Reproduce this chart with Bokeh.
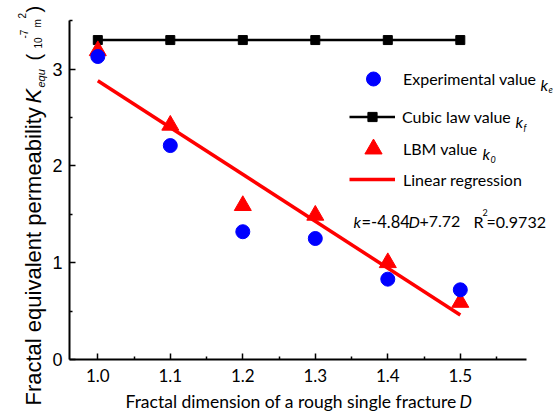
import math
from bokeh.plotting import figure
from bokeh.models import (Range1d, Label, Legend, LegendItem, FixedTicker)
from bokeh.embed import file_html
from bokeh.resources import INLINE

# ---- data ----
D = [1.0, 1.1, 1.2, 1.3, 1.4, 1.5]
k_exp = [3.13, 2.21, 1.32, 1.25, 0.83, 0.72]
k_cubic = [3.30, 3.30, 3.30, 3.30, 3.30, 3.30]
k_lbm = [3.19, 2.42, 1.59, 1.49, 1.00, 0.59]
reg_D = [1.0, 1.5]
reg_k = [2.88, 0.46]
x_ticks = [1.0, 1.1, 1.2, 1.3, 1.4, 1.5]
x_minor = [1.05, 1.15, 1.25, 1.35, 1.45, 1.55]
y_ticks = [0, 1, 2, 3]
y_minor = [0.5, 1.5, 2.5, 3.5]
x_axis_span = (0.961, 1.591)
y_axis_span = (0.0, 3.5)

W, H = 553, 414
# canvas-wide frame; axes are fixed inside it
XPX = 725.0   # px per unit D
YPX = 96.8    # px per unit k
X0PX, Y0PX = 97.3, 359.0   # canvas position of D=1.0 and k=0
x_range = Range1d(1.0 - X0PX / XPX, 1.0 + (W - X0PX) / XPX)
y_range = Range1d(-(H - Y0PX) / YPX, Y0PX / YPX)

p = figure(width=W, height=H, output_backend="svg", toolbar_location=None,
           x_range=x_range, y_range=y_range,
           min_border_left=0, min_border_right=0,
           min_border_top=0, min_border_bottom=0)
p.background_fill_color = "white"
p.border_fill_color = "white"
p.outline_line_color = None
p.grid.visible = False

p.xaxis.fixed_location = y_axis_span[0]
p.yaxis.fixed_location = x_axis_span[0]
p.xaxis.bounds = x_axis_span
p.yaxis.bounds = y_axis_span

for ax in (p.xaxis, p.yaxis):
    ax.axis_line_width = 2
    ax.axis_line_color = "black"
    ax.major_tick_in = 6
    ax.major_tick_out = 0
    ax.minor_tick_in = 3
    ax.minor_tick_out = 0
    ax.major_tick_line_width = 1.5
    ax.minor_tick_line_width = 1.5
    ax.major_label_text_color = "black"

p.xaxis.ticker = FixedTicker(ticks=x_ticks, minor_ticks=x_minor)
p.yaxis.ticker = FixedTicker(ticks=y_ticks, minor_ticks=y_minor)
p.xaxis.major_label_overrides = {t: f"{t:.1f}" for t in x_ticks}
p.xaxis.major_label_text_font = "Lato"
p.xaxis.major_label_text_font_size = "17px"
p.xaxis.major_label_standoff = 9
p.yaxis.major_label_text_font = "Liberation Sans"
p.yaxis.major_label_text_font_size = "18px"
p.yaxis.major_label_standoff = 7

# ---- glyphs ----
r_reg = p.line(reg_D, reg_k, line_color="#ff0000", line_width=3.5)
r_cub_l = p.line(D, k_cubic, line_color="black", line_width=2.5)
r_cub_s = p.scatter(D, k_cubic, marker="square", size=9, color="black")
r_lbm = p.scatter(D, k_lbm, marker="triangle", size=17, color="#ff0000")
r_exp = p.scatter(D, k_exp, marker="circle", size=14, color="#0000ff")

# ---- legends (one per item to control placement) ----
def add_legend(label, renderers, left, cy, gw, gh, standoff):
    lg = Legend(items=[LegendItem(label=label, renderers=renderers)],
                location=(left, int(round(H - (cy + gh / 2)))),
                glyph_width=gw, glyph_height=gh, label_standoff=standoff,
                padding=0, margin=0, spacing=0,
                border_line_color=None, background_fill_alpha=0,
                label_text_font="Lato", label_text_font_size="16px",
                label_text_color="black")
    p.add_layout(lg)

add_legend("Experimental value", [r_exp], 350, 78, 46, 35, 7)
add_legend("Cubic law value", [r_cub_l, r_cub_s], 349, 116, 46, 23, 7)
add_legend("LBM value", [r_lbm], 350, 149, 46, 43, 7)
add_legend("Linear regression", [r_reg], 349, 179, 46, 20, 8)

def txt(sx, sy, t, size, font="Lato", style="normal", angle=0, align="left",
        baseline="alphabetic"):
    p.add_layout(Label(x=sx, y=H - sy, x_units="screen", y_units="screen",
                       text=t, text_font=font, text_font_size=size,
                       text_font_style=style, angle=angle, text_align=align,
                       text_baseline=baseline, text_color="black"))

# legend italic k + subscripts
txt(540, 84, "k", "16px", style="italic")
txt(548, 89, "e", "9px", style="italic")
txt(515, 121, "k", "16px", style="italic")
txt(523, 127, "f", "9px", style="italic")
txt(482, 153, "k", "16px", style="italic")
txt(490, 159, "0", "9px", style="italic")

# equation
txt(353, 221, "k", "16px", style="italic")
txt(361, 221, "=-4.84", "16.5px")
txt(408, 221, "D", "16px", style="italic")
txt(419, 221, "+7.72", "16px")
txt(473, 221, "R", "16px")
txt(482, 212, "2", "9px")
txt(486, 221, "=0.9732", "16px")

# x axis title
txt(125, 401, "Fractal dimension of a rough single fracture ", "17.5px")
txt(459, 401, "D", "17.5px", style="italic")

# y axis title (rotated)
a = math.pi / 2
txt(33, 405, "Fractal equivalent permeability ", "22px", font="Liberation Sans", angle=a)
txt(33, 103, "K", "22px", font="Liberation Sans", style="italic", angle=a)
txt(40, 87, "equ", "11px", font="Liberation Sans", style="italic", angle=a)
txt(33, 60, "(", "20px", font="Liberation Sans", angle=a)
txt(37, 48, "10", "10px", font="Liberation Sans", angle=a)
txt(23, 38, "-7", "10px", font="Liberation Sans", angle=a)
txt(37, 27, "m", "10px", font="Liberation Sans", angle=a)
txt(21, 18, "2", "10px", font="Liberation Sans", angle=a)
txt(33, 12, ")", "20px", font="Liberation Sans", angle=a)

open("out.html", "w").write(file_html(p, INLINE))
